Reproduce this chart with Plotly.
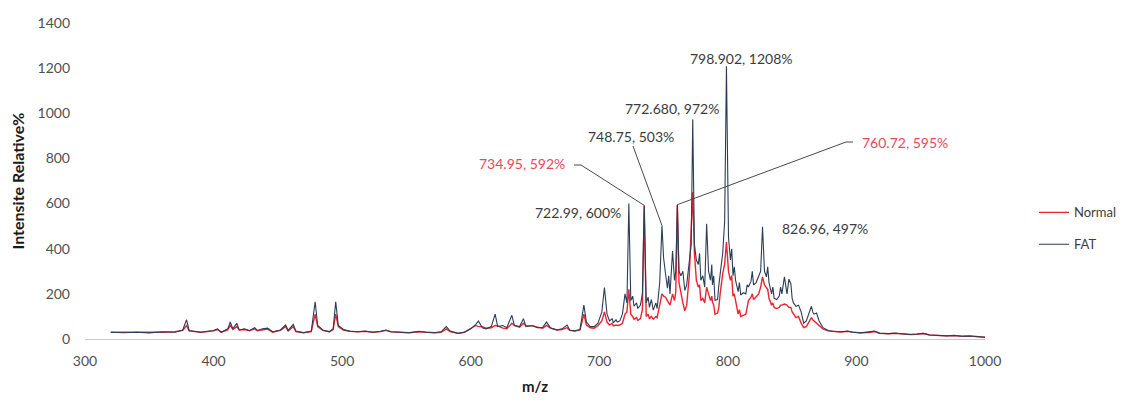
import plotly.graph_objects as go

# ---------------- data ----------------
mz = [320, 330, 340, 350, 360, 370, 376, 379, 381, 390, 400, 403, 406, 411, 413, 415, 418, 420,
      424, 428, 432, 434, 438, 442, 446, 452, 456, 458, 462, 464, 470, 476, 479, 481, 485, 490,
      493, 495, 497, 501, 506, 512, 518, 524, 530, 534, 538, 545, 552, 560, 565, 572, 577, 581,
      584, 590, 595, 600, 604, 606, 609, 612, 616, 619, 621, 625, 628, 632, 634, 638, 641, 643,
      648, 652, 656, 659, 662, 667, 671, 675, 677, 681, 685,
      688, 690, 693, 696, 699, 702, 704, 706, 708, 710, 711, 713, 714, 716, 718, 720, 721.5,
      722.99, 724.5, 726, 727, 729, 730, 732, 733.5, 734.95, 736.5, 738, 739, 740.5, 742, 744,
      745, 747, 748.75, 750, 751.5, 753, 754, 755, 757, 758.5, 759.5, 760.72, 762, 763.5, 765,
      766.5, 768, 770, 771.5, 772.68, 774, 775.5, 777, 778, 779, 780.5, 782, 783.5, 785, 786.5,
      787.5, 788, 789, 790, 792, 793, 794, 796, 797.5, 798.902, 800.5, 802, 803, 804, 805, 806,
      808, 809, 810, 812, 814, 815, 816, 818, 819, 820, 822, 824, 825.5, 826.96, 828.5, 830,
      831, 832, 834, 835, 836, 838, 840, 841, 842, 844, 846, 847.5, 849, 850, 851, 853, 855,
      857, 859, 861, 863, 865, 866, 867, 869, 871, 874,
      878, 882, 888, 893, 897, 903, 910, 914, 918, 925, 930, 936, 942, 947, 952, 957, 964, 970,
      976, 982, 988, 994, 1000]

fat = [30, 28, 30, 27, 32, 30, 40, 85, 38, 30, 38, 45, 30, 45, 75, 45, 70, 40,
       45, 38, 50, 38, 45, 48, 32, 40, 62, 38, 65, 35, 28, 35, 165, 60, 40, 32,
       45, 165, 60, 42, 35, 32, 35, 30, 34, 40, 32, 30, 28, 34, 30, 28, 32, 55,
       35, 25, 30, 45, 65, 80, 50, 45, 55, 110, 55, 60, 50, 105, 60, 55, 90, 55,
       60, 50, 52, 75, 50, 40, 45, 62, 40, 36, 42,
       150, 75, 55, 55, 70, 120, 228, 110, 80, 90, 72, 85, 75, 80, 110, 200, 160,
       600, 170, 190, 145, 160, 135, 150, 200, 590, 160, 185, 140, 175, 128, 160,
       135, 250, 503, 360, 290, 225, 280, 200, 390, 260, 300, 595, 300, 280, 300,
       215, 240, 330, 420, 972, 420, 350, 330, 380, 260, 280, 230, 510, 300, 260,
       330, 240, 280, 172, 175, 240, 290, 380, 520, 1208, 450, 350, 400, 280, 320, 260,
       210, 250, 195, 205, 200, 240, 230, 255, 300, 240, 250, 280, 300, 497, 300, 275,
       320, 250, 200, 230, 180, 175, 190, 230, 200, 275, 200, 265, 245, 180, 160, 145, 150,
       120, 70, 80, 110, 145, 120, 110, 115, 80, 50,
       38, 33, 32, 35, 30, 27, 30, 35, 26, 24, 26, 22, 20, 22, 25, 18, 15, 14,
       16, 12, 13, 9, 8]

normal = [30, 30, 28, 29, 30, 32, 38, 60, 36, 30, 36, 42, 30, 40, 60, 42, 55, 40,
          42, 36, 45, 36, 40, 44, 30, 38, 55, 36, 55, 33, 28, 33, 110, 55, 38, 32,
          42, 110, 55, 40, 34, 32, 34, 30, 33, 38, 32, 30, 28, 32, 30, 28, 30, 45,
          33, 25, 30, 48, 60, 55, 55, 48, 50, 60, 58, 48, 45, 70, 60, 52, 70, 58,
          58, 52, 48, 60, 48, 40, 42, 50, 38, 35, 40,
          110, 62, 50, 48, 60, 80, 120, 75, 62, 70, 58, 62, 60, 62, 70, 110, 120,
          220, 110, 100, 88, 95, 82, 90, 130, 592, 100, 110, 90, 100, 88, 100,
          95, 150, 200, 190, 185, 170, 160, 150, 200, 170, 210, 595, 250, 200, 160,
          125, 150, 280, 450, 650, 380, 260, 230, 240, 170, 180, 160, 230, 200, 170,
          190, 165, 150, 110, 115, 140, 200, 290, 330, 430, 300, 260, 280, 190, 200, 170,
          110, 130, 100, 105, 110, 140, 170, 185, 200, 175, 190, 200, 230, 275, 240, 230,
          220, 180, 150, 160, 140, 135, 140, 150, 150, 155, 150, 140, 140, 120, 110, 95, 100,
          70, 50, 55, 75, 95, 85, 80, 70, 60, 45,
          36, 33, 31, 34, 30, 27, 29, 33, 25, 23, 25, 21, 20, 21, 24, 18, 15, 14,
          15, 12, 13, 9, 8]

assert len(mz) == len(fat) == len(normal)

x_ticks = [300, 400, 500, 600, 700, 800, 900, 1000]
y_ticks = [0, 200, 400, 600, 800, 1000, 1200, 1400]

# data labels (text, m/z of the labelled point, series)
label_text = ["798.902, 1208%", "772.680, 972%", "748.75, 503%", "734.95, 592%",
              "722.99, 600%", "760.72, 595%", "826.96, 497%"]
label_mz = [798.902, 772.68, 748.75, 734.95, 722.99, 760.72, 826.96]
label_series = ["FAT", "FAT", "FAT", "Normal", "FAT", "Normal", "FAT"]

# ---------------- layout constants ----------------
PAGE_OFF = 8                      # default body margin of the html page
W, H = 1139 - PAGE_OFF, 405 - PAGE_OFF
L, R, T, B = 85 - PAGE_OFF, 154, 23 - PAGE_OFF, 66
X0, X1, Y0, Y1 = 300, 1000, 0, 1400


def px2x(px):
    return X0 + (px - PAGE_OFF - L) * (X1 - X0) / (W - L - R)


def py2y(py):
    return Y0 + (H - B - (py - PAGE_OFF)) * (Y1 - Y0) / (H - T - B)


label_pos_px = [(741, 58), (672, 108), (631, 136), (522, 163), (578, 212), (905, 142), (825, 228)]
leader_px = {2: [(633, 146)], 3: [(574, 165), (581, 165)], 5: [(853, 142), (846, 142)]}

RED = "#f0232f"
DARK = "#2b3e58"
TXT = "#3c3c3c"
RED_TXT = "#e9485c"
FONT = "Lato"

series = {"Normal": normal, "FAT": fat}

fig = go.Figure()
fig.add_trace(go.Scatter(x=mz, y=normal, mode="lines", name="Normal", legendgroup="n",
                         line=dict(color=RED, width=1.4)))
fig.add_trace(go.Scatter(x=mz, y=fat, mode="lines", name="FAT", legendgroup="f",
                         line=dict(color=DARK, width=1.1)))

annotations = []
shapes = []
for i, txt in enumerate(label_text):
    px, py = label_pos_px[i]
    col = RED_TXT if label_series[i] == "Normal" else TXT
    annotations.append(dict(x=px2x(px), y=py2y(py), xref="x", yref="y", text=txt,
                            showarrow=False, xanchor="center", yanchor="middle",
                            font=dict(family=FONT, size=14, color=col)))
    if i in leader_px:
        vals = series[label_series[i]]
        pv = vals[mz.index(label_mz[i])]
        pts = [(px2x(a), py2y(b)) for a, b in leader_px[i]] + [(label_mz[i], pv)]
        for (xa, ya), (xb, yb) in zip(pts[:-1], pts[1:]):
            shapes.append(dict(type="line", xref="x", yref="y", x0=xa, y0=ya, x1=xb, y1=yb,
                               line=dict(color="#4a4a4a", width=1)))

fig.update_layout(
    width=W, height=H,
    margin=dict(l=L, r=R, t=T, b=B, autoexpand=False),
    paper_bgcolor="white", plot_bgcolor="white",
    font=dict(family=FONT, size=14, color="#505050"),
    showlegend=True,
    legend=dict(x=(1034 - PAGE_OFF - L) / (W - L - R), y=0.35, xanchor="left", yanchor="middle",
                tracegroupgap=12, font=dict(family=FONT, size=13, color="#404040"),
                bgcolor="rgba(0,0,0,0)"),
    annotations=annotations,
    shapes=shapes,
    xaxis=dict(range=[X0, X1], tickvals=x_ticks, showgrid=False, zeroline=False,
               showline=True, linecolor="#c8c8c8", linewidth=1, ticks="",
               ticklabelstandoff=9,
               tickfont=dict(family=FONT, size=14, color="#505050"),
               title=dict(text="<b>m/z</b>", standoff=13,
                          font=dict(family=FONT, size=15, color="#1a1a1a"))),
    yaxis=dict(range=[Y0, Y1], tickvals=y_ticks, showgrid=False, zeroline=False,
               showline=False, ticks="", ticklabelstandoff=14,
               tickfont=dict(family=FONT, size=14, color="#505050"),
               title=dict(text="<b>Intensite Relative%</b>", standoff=10,
                          font=dict(family=FONT, size=16, color="#1a1a1a"))),
)

fig.write_html("out.html")
